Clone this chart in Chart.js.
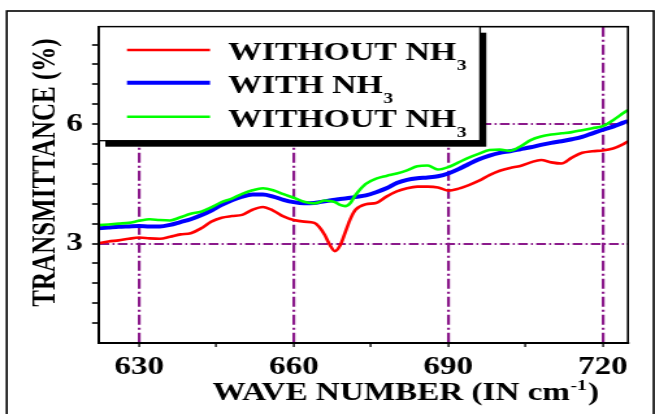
<!DOCTYPE html>
<html>
<head>
<meta charset="utf-8">
<title>Transmittance vs wave number</title>
<script src="https://cdn.jsdelivr.net/npm/chart.js@4/dist/chart.umd.min.js"></script>
<style>
  html, body { margin: 0; padding: 0; background: #fff; }
  canvas { display: block; }
</style>
</head>
<body>
<!-- drawn on a 504px wide canvas and widened to 655px, like the original wide-stretched plot -->
<canvas id="chart" width="504" height="414" style="width:655px;height:414px"></canvas>
<script>
  'use strict';

  // wave number (cm^-1), shared by all three spectra
  var wavenumbers = [
    622, 624, 626, 628, 630, 632, 634, 636, 638, 640, 642, 644, 646, 648, 650,
    652, 654, 656, 658, 660, 662, 664, 665, 666, 667, 668, 669, 670, 671, 672,
    674, 676, 678, 680, 682, 684, 686, 688, 690, 692, 694, 696, 698, 700, 702,
    704, 706, 708, 710, 712, 714, 716, 718, 720, 722, 724, 724.9
  ];

  // transmittance (%)
  var withoutNh3Red = [
    3.00, 3.05, 3.08, 3.12, 3.15, 3.13, 3.12, 3.17, 3.23, 3.26, 3.38, 3.55, 3.65, 3.69, 3.72,
    3.85, 3.92, 3.83, 3.68, 3.59, 3.55, 3.52, 3.41, 3.22, 2.97, 2.81, 2.95, 3.28, 3.62, 3.85,
    3.99, 4.02, 4.18, 4.31, 4.39, 4.43, 4.43, 4.41, 4.33, 4.38, 4.47, 4.58, 4.72, 4.83, 4.90,
    4.95, 5.04, 5.10, 5.04, 5.01, 5.16, 5.28, 5.32, 5.34, 5.39, 5.50, 5.57
  ];
  var withNh3 = [
    3.38, 3.40, 3.42, 3.43, 3.44, 3.43, 3.43, 3.47, 3.54, 3.61, 3.71, 3.83, 3.97, 4.09, 4.18,
    4.23, 4.23, 4.18, 4.10, 4.04, 4.01, 4.02, 4.04, 4.06, 4.08, 4.10, 4.12, 4.13, 4.15, 4.17,
    4.21, 4.29, 4.39, 4.52, 4.60, 4.64, 4.66, 4.69, 4.76, 4.87, 5.00, 5.12, 5.21, 5.28, 5.32,
    5.37, 5.42, 5.48, 5.53, 5.57, 5.62, 5.68, 5.77, 5.86, 5.94, 6.04, 6.08
  ];
  var withoutNh3Green = [
    3.46, 3.48, 3.50, 3.52, 3.57, 3.61, 3.59, 3.58, 3.66, 3.75, 3.80, 3.91, 4.04, 4.13, 4.25,
    4.34, 4.39, 4.34, 4.24, 4.15, 4.05, 4.01, 4.04, 4.08, 4.07, 4.04, 3.97, 3.94, 4.02, 4.22,
    4.50, 4.63, 4.70, 4.76, 4.84, 4.94, 4.96, 4.86, 4.92, 5.04, 5.16, 5.26, 5.35, 5.36, 5.33,
    5.44, 5.60, 5.69, 5.74, 5.77, 5.80, 5.85, 5.90, 5.95, 6.10, 6.28, 6.36
  ];

  var seriesLabels = ['WITHOUT NH3', 'WITH NH3', 'WITHOUT NH3'];

  // ticks: every value gets a tick mark, only some get a label and a grid line
  var xTickValues = [630, 645, 660, 675, 690, 705, 720];
  var xLabelValues = [630, 660, 690, 720];
  var yTickValues = [1, 1.5, 2, 2.5, 3, 3.5, 4, 4.5, 5, 5.5, 6, 6.5, 7, 7.5, 8];
  var yLabelValues = [3, 6];

  var FONT = '"Liberation Serif", "Times New Roman", serif';
  var GRID = '#8b1a8b';
  var NONE = 'rgba(0,0,0,0)';

  function points(ys) {
    return wavenumbers.map(function (x, i) { return { x: x, y: ys[i] }; });
  }

  function series(label, ys, color, width, order) {
    return {
      label: label,
      data: points(ys),
      borderColor: color,
      backgroundColor: color,
      borderWidth: width,
      pointRadius: 0,
      cubicInterpolationMode: 'monotone',
      fill: false,
      order: order
    };
  }

  // text with a trailing sub/superscript part
  function drawScripted(ctx, x, y, main, small, size, smallSize, shift) {
    ctx.font = 'bold ' + size + 'px ' + FONT;
    ctx.fillText(main, x, y);
    var w = ctx.measureText(main).width;
    ctx.font = 'bold ' + smallSize + 'px ' + FONT;
    ctx.fillText(small, x + w + 0.5, y + shift);
    return w + 0.5 + ctx.measureText(small).width;
  }

  var decor = {
    id: 'decor',
    beforeDraw: function (chart) {
      var ctx = chart.ctx;
      ctx.save();
      ctx.fillStyle = '#fff';
      ctx.fillRect(0, 0, chart.width, chart.height);
      // outer frame, runs off the bottom edge
      ctx.strokeStyle = '#000';
      ctx.lineWidth = 1.6;
      ctx.strokeRect(5.2, 11, 497.8, 430);
      ctx.restore();
    },
    afterDraw: function (chart) {
      var ctx = chart.ctx;
      var a = chart.chartArea;
      ctx.save();

      // plot box
      ctx.strokeStyle = '#000';
      ctx.lineWidth = 1.6;
      ctx.strokeRect(a.left, a.top, a.right - a.left, a.bottom - a.top);

      // legend box with heavy drop shadow
      var bx = a.left, by = a.top, bw = 293.2, bh = 114;
      ctx.fillStyle = '#000';
      ctx.fillRect(bx + 4.8, by + 6, bw, bh);
      ctx.fillStyle = '#fff';
      ctx.fillRect(bx, by, bw, bh);
      ctx.lineWidth = 1.3;
      ctx.strokeRect(bx, by, bw, bh);

      var lineY = [50, 82.7, 116.7];
      var textY = [59.5, 93, 126.5];
      chart.data.datasets.forEach(function (ds, i) {
        ctx.strokeStyle = ds.borderColor;
        ctx.lineWidth = ds.borderWidth;
        ctx.beginPath();
        ctx.moveTo(97.7, lineY[i]);
        ctx.lineTo(161.6, lineY[i]);
        ctx.stroke();

        var m = ds.label.match(/^(.*?)(\d+)$/);
        ctx.fillStyle = '#000';
        ctx.textAlign = 'left';
        ctx.textBaseline = 'alphabetic';
        drawScripted(ctx, 175.4, textY[i], m[1], m[2], 26, 15, 10);
      });

      // axis titles
      ctx.fillStyle = '#000';
      ctx.textAlign = 'left';
      ctx.textBaseline = 'alphabetic';
      var w = drawScripted(ctx, 163.5, 399.5, 'WAVE NUMBER (IN cm', '-1', 25.5, 15, -10);
      ctx.font = 'bold 25.5px ' + FONT;
      ctx.fillText(')', 163.5 + w + 1, 399.5);

      ctx.translate(42.3, 172.5);
      ctx.rotate(-Math.PI / 2);
      ctx.textAlign = 'center';
      ctx.font = 'bold 25px ' + FONT;
      ctx.fillText('TRANSMITTANCE (%)', 0, 0);

      ctx.restore();
    }
  };

  var tickFont = { family: FONT, size: 25.5, weight: 'bold' };

  new Chart(document.getElementById('chart'), {
    type: 'line',
    data: {
      datasets: [
        series(seriesLabels[0], withoutNh3Red, '#ff0000', 2.6, 2),
        series(seriesLabels[1], withNh3, '#0000ff', 4, 1),
        series(seriesLabels[2], withoutNh3Green, '#00ff00', 2.6, 0)
      ]
    },
    options: {
      responsive: false,
      devicePixelRatio: 1,
      animation: false,
      events: [],
      layout: { padding: { left: 0, right: 20.8, top: 26.7, bottom: 0 } },
      plugins: {
        legend: { display: false },
        tooltip: { enabled: false },
        title: { display: false }
      },
      scales: {
        x: {
          type: 'linear',
          min: 622.2,
          max: 724.9,
          afterBuildTicks: function (scale) {
            scale.ticks = xTickValues.map(function (v) { return { value: v }; });
          },
          afterFit: function (scale) { scale.height = 71; },
          ticks: {
            autoSkip: false,
            maxRotation: 0,
            color: '#000',
            font: tickFont,
            padding: 5,
            callback: function (v) { return xLabelValues.indexOf(v) >= 0 ? String(v) : ''; }
          },
          grid: {
            color: function (c) {
              return c.tick && xLabelValues.indexOf(c.tick.value) >= 0 ? GRID : NONE;
            },
            lineWidth: 2.2,
            tickColor: '#000',
            tickLength: 4,
            tickWidth: 1.3
          },
          border: { color: '#000', width: 2, dash: [10, 3, 2, 3] }
        },
        y: {
          min: 0.5,
          max: 8.45,
          afterBuildTicks: function (scale) {
            scale.ticks = yTickValues.map(function (v) { return { value: v }; });
          },
          afterFit: function (scale) { scale.width = 76.2; },
          ticks: {
            autoSkip: false,
            color: '#000',
            font: tickFont,
            padding: 7,
            callback: function (v) { return yLabelValues.indexOf(v) >= 0 ? String(v) : ''; }
          },
          grid: {
            color: function (c) {
              return c.tick && yLabelValues.indexOf(c.tick.value) >= 0 ? GRID : NONE;
            },
            lineWidth: 2,
            tickColor: '#000',
            tickLength: 5.4,
            tickWidth: 1.6
          },
          border: { color: '#000', width: 1.6, dash: [7.5, 2.5, 1.5, 2.5] }
        }
      }
    },
    plugins: [decor]
  });
</script>
</body>
</html>
